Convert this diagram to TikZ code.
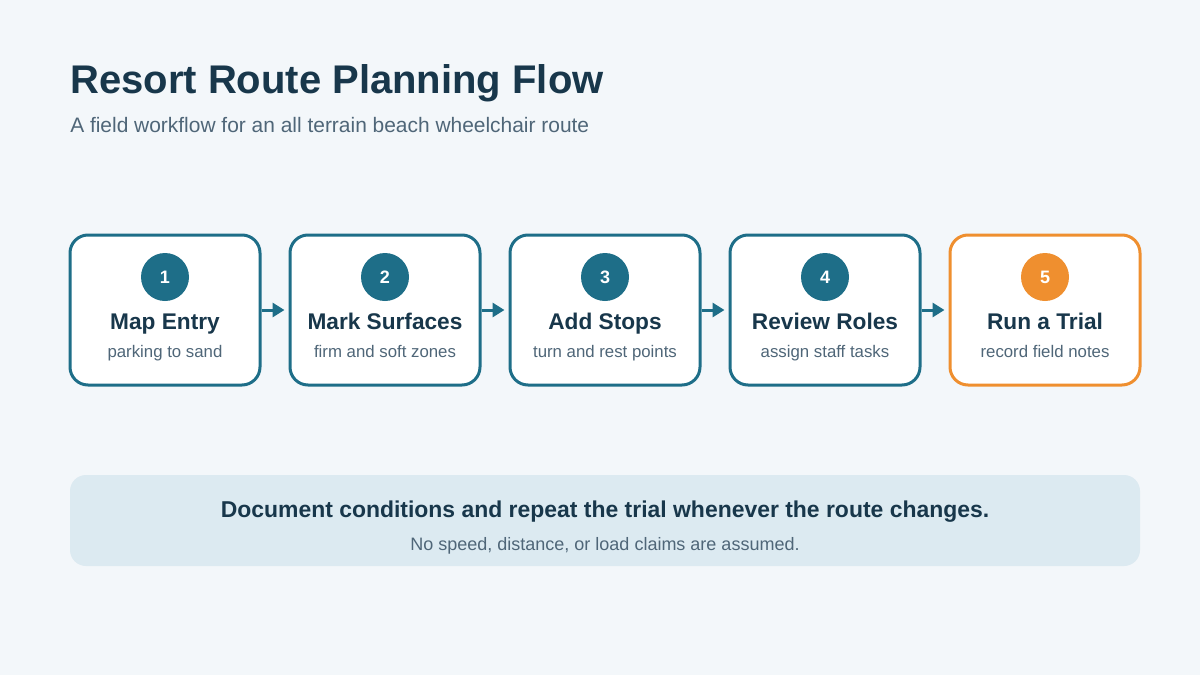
\documentclass[tikz,border=0pt]{standalone}
\usepackage{fontspec}
\setmainfont{Liberation Sans}
\usetikzlibrary{arrows.meta, positioning}
\definecolor{pagebg}{HTML}{F3F7FA}
\definecolor{teal}{HTML}{1E6E88}
\definecolor{navy}{HTML}{18374B}
\definecolor{slate}{HTML}{4F6678}
\definecolor{orange}{HTML}{EF8F2F}
\definecolor{notebg}{HTML}{DCEAF1}

\begin{document}
\begin{tikzpicture}[x=0.75pt, y=-0.75pt,
        stepbox/.style={draw=#1, line width=2.25pt, fill=white, rounded corners=13.5pt,
                        minimum width=142.5pt, minimum height=112.5pt},
        numdot/.style={circle, fill=#1, minimum size=36pt, inner sep=0pt, text=white,
                       font=\fontsize{13.5}{16}\selectfont\bfseries},
        steptitle/.style={anchor=base, inner sep=0pt, text=navy,
                          font=\fontsize{17}{20}\selectfont\bfseries},
        stepnote/.style={anchor=base, inner sep=0pt, text=slate,
                         font=\fontsize{12.6}{15}\selectfont},
        arr/.style={-{Triangle[length=9pt, width=10.5pt]}, line width=2.25pt, draw=teal,
                    shorten >=3pt}
    ]
    \fill[pagebg] (0,0) rectangle (1200,675);
    \useasboundingbox (0,0) rectangle (1200,675);

    % heading
    \node[anchor=base west, inner sep=0pt, text=navy,
          font=\fontsize{30}{36}\selectfont\bfseries] (title) at (70,93) {Resort Route Planning Flow};
    \node[anchor=base west, inner sep=0pt, text=slate,
          font=\fontsize{15.7}{19}\selectfont] (subtitle) at (70,132) {A field workflow for an all terrain beach wheelchair route};

    % steps
    \foreach \i/\col/\head/\note in {1/teal/Map Entry/parking to sand,
                                     2/teal/Mark Surfaces/firm and soft zones,
                                     3/teal/Add Stops/turn and rest points,
                                     4/teal/Review Roles/assign staff tasks,
                                     5/orange/Run a Trial/record field notes} {
        \node[stepbox=\col] (step\i) at ({165+220*(\i-1)},310) {};
        \node[numdot=\col] (num\i) at ([yshift=24.75pt]step\i.center) {\i};
        \node[steptitle] (head\i) at ([yshift=-14.25pt]step\i.center) {\head};
        \node[stepnote] (note\i) at ([yshift=-35.25pt]step\i.center) {\note};
    }

    \foreach \a/\b in {1/2, 2/3, 3/4, 4/5}
        \draw[arr] (step\a.east) -- (step\b.west);

    % note
    \node[fill=notebg, rounded corners=12pt, minimum width=802.5pt, minimum height=68.25pt]
        (notebox) at (605,520.5) {};
    \node[anchor=base, inner sep=0pt, text=navy, font=\fontsize{17.2}{20}\selectfont\bfseries]
        (notehead) at (605,517)
        {Document conditions and repeat the trial whenever the route changes.};
    \node[anchor=base, inner sep=0pt, text=slate, font=\fontsize{13.5}{16}\selectfont]
        (notetext) at (605,550)
        {No speed, distance, or load claims are assumed.};
\end{tikzpicture}
\end{document}
